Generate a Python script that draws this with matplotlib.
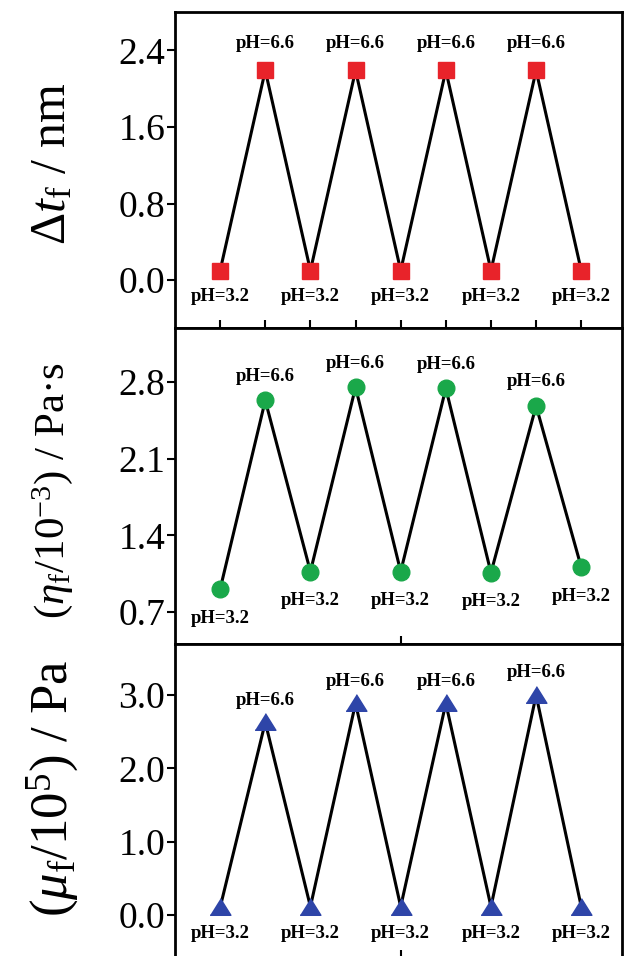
import matplotlib
matplotlib.use('Agg')
import matplotlib.pyplot as plt

# cycle number (9 alternating pH steps)
cycle = [1, 2, 3, 4, 5, 6, 7, 8, 9]
ph_labels = ['pH=3.2', 'pH=6.6', 'pH=3.2', 'pH=6.6', 'pH=3.2',
             'pH=6.6', 'pH=3.2', 'pH=6.6', 'pH=3.2']

# film thickness change / nm
delta_t = [0.10, 2.19, 0.10, 2.19, 0.10, 2.19, 0.10, 2.19, 0.10]
# viscosity eta_f / 1e-3 Pa s
eta = [0.91, 2.63, 1.07, 2.75, 1.07, 2.74, 1.06, 2.58, 1.11]
# shear modulus mu_f / 1e5 Pa
mu = [0.10, 2.63, 0.11, 2.89, 0.11, 2.89, 0.11, 3.00, 0.11]

plt.rcParams['font.family'] = ['Liberation Serif', 'DejaVu Serif']
plt.rcParams['mathtext.fontset'] = 'custom'
plt.rcParams['mathtext.rm'] = 'Liberation Serif'
plt.rcParams['mathtext.it'] = 'Liberation Serif:italic'
plt.rcParams['mathtext.bf'] = 'Liberation Serif:bold'

fig = plt.figure(figsize=(6.25, 9.56), dpi=100)
left, width = 0.28, 0.715
ax1 = fig.add_axes([left, 0.6569, width, 0.3305])
ax2 = fig.add_axes([left, 0.3264, width, 0.3305])
ax3 = fig.add_axes([left, -0.0020, width, 0.3284])

tri = [(-1, -0.75), (1, -0.75), (0, 0.85)]

panels = [
    (ax1, delta_t, 's', '#e8232a', 11, (-0.5, 2.8), [0.0, 0.8, 1.6, 2.4],
     r'$\Delta t_{\mathrm{f}}$ / nm', 36, 0.519, 19.4, 18.7),
    (ax2, eta, 'o', '#1aa84a', 12, (0.41, 3.29), [0.7, 1.4, 2.1, 2.8],
     r'$(\eta_{\mathrm{f}}/10^{-3})$ / Pa·s', 31, 0.487, 17.3, 20.9),
    (ax3, mu, tri, '#2e45a8', 15, (-0.59, 3.7), [0.0, 1.0, 2.0, 3.0],
     r'$(\mu_{\mathrm{f}}/10^{5})$ / Pa', 38, 0.541, 16.0, 19.0),
]

for ax, vals, mk, col, ms, ylim, yt, ylab, lfs, ly, up, down in panels:
    ax.plot(cycle, vals, color='black', lw=2.2, zorder=2)
    ax.plot(cycle, vals, linestyle='none', marker=mk, markersize=ms,
            markerfacecolor=col, markeredgecolor=col, zorder=3)
    for x, y, lab in zip(cycle, vals, ph_labels):
        dy = up if lab == 'pH=6.6' else -down
        ax.annotate(lab, (x, y), xytext=(0, dy), textcoords='offset points',
                    ha='center', va='center', fontsize=13.5, fontweight='bold')
    ax.set_xlim(0.0, 9.9)
    ax.set_ylim(*ylim)
    ax.set_yticks(yt)
    ax.set_yticklabels(['%.1f' % v for v in yt])
    ax.tick_params(axis='y', direction='out', length=6, width=1.5,
                   labelsize=27, pad=1)
    ax.tick_params(axis='x', direction='in', length=6, width=1.5,
                   labelbottom=False)
    for sp in ax.spines.values():
        sp.set_linewidth(2)
    ax.set_ylabel(ylab, fontsize=lfs, va='center', ha='center')
    ax.yaxis.set_label_coords(-0.273, ly)

ax1.set_xticks(cycle)
ax2.set_xticks([5])
ax3.set_xticks([5])

fig.savefig('out.png', dpi=100)
